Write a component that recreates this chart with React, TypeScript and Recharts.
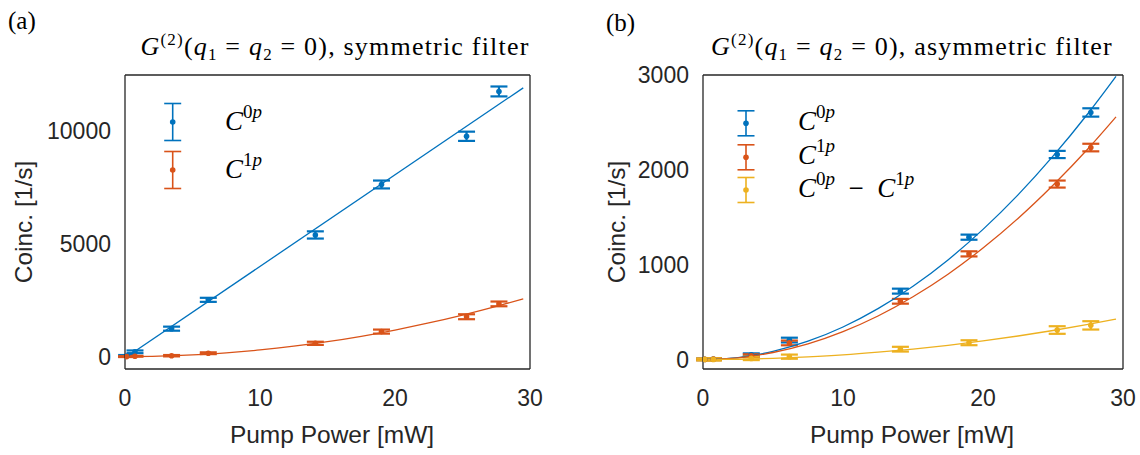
import React from "react";
import { ComposedChart, Scatter, Line, XAxis, YAxis, ErrorBar } from "recharts";

const BLUE = "#0072BD";
const ORANGE = "#D95319";
const YELLOW = "#EDB120";
const AXIS = "#262626";
const SANS = "'Liberation Sans', Arial, Helvetica, sans-serif";
const SERIF = "'Liberation Serif', 'Times New Roman', serif";

// ---------- data ----------
const pumpPower = [0.12, 0.74, 3.45, 6.17, 14.1, 19.0, 25.3, 27.7];

const symC0p = [30, 213, 1240, 2520, 5400, 7640, 9780, 11770];
const symC0pErr = [40, 60, 90, 90, 160, 175, 205, 220];
const symC1p = [0, 15, 40, 150, 590, 1110, 1770, 2340];
const symC1pErr = [20, 20, 30, 40, 70, 90, 110, 105];

const asymC0p = [2, 5, 50, 205, 721, 1290, 2162, 2605];
const asymC0pErr = [8, 10, 15, 25, 26, 27, 38, 44];
const asymC1p = [1, 4, 40, 175, 614, 1114, 1850, 2235];
const asymC1pErr = [8, 10, 15, 25, 25, 27, 37, 40];
const asymDiff = [1, 1, 12, 30, 109, 177, 311, 360];
const asymDiffErr = [10, 12, 18, 22, 25, 26, 40, 44];

const symFitLinX = [0, 29.5];
const symFitC0p = [-60, 11930];
const fitX = [0, 2.5, 5, 7.5, 10, 12.5, 15, 17.5, 20, 22.5, 25, 27.5, 29.5];
const symFitC1p = [0, 18, 74, 166, 295, 461, 664, 903, 1180, 1493, 1844, 2231, 2567];
const asymFitC0p = [0, 21, 86, 193, 343, 536, 772, 1050, 1372, 1736, 2144, 2594, 2985];
const asymFitC1p = [0, 18, 74, 165, 294, 459, 662, 900, 1176, 1488, 1838, 2223, 2559];
const asymFitDiff = [0, 3, 12, 28, 49, 77, 110, 150, 196, 248, 306, 371, 426];

const xTicks = [0, 10, 20, 30];
const symYTicks = [0, 5000, 10000];
const asymYTicks = [0, 1000, 2000, 3000];

const symTitle = "symmetric filter";
const asymTitle = "asymmetric filter";
const xLabel = "Pump Power [mW]";
const yLabel = "Coinc. [1/s]";

// ---------- helpers ----------
type Series = { color: string; values: number[]; errors: number[] };
type Fit = { color: string; xs: number[]; ys: number[] };

const toPoints = (xs: number[], ys: number[], es?: number[]) =>
  xs.map((x, i) => ({ x, y: ys[i], e: es ? es[i] : 0 }));

const dotShape = (color: string) => (props: any) =>
  <circle cx={props.cx} cy={props.cy} r={2.8} fill={color} />;

function Panel(props: {
  left: number;
  width: number;
  margin: { top: number; right: number; bottom: number; left: number };
  yDomain: [number, number];
  yTicks: number[];
  series: Series[];
  fits: Fit[];
}) {
  const { left, width, margin, yDomain, yTicks, series, fits } = props;
  const axisLine = { stroke: AXIS, strokeWidth: 1.3 };
  const tickLine = { stroke: AXIS, strokeWidth: 1.3 };
  const tickStyle = { fill: AXIS, fontSize: 23, fontFamily: SANS };
  return (
    <div style={{ position: "absolute", left, top: 0, width, height: 455 }}>
      <ComposedChart width={width} height={455} margin={margin}>
        <XAxis xAxisId="b" type="number" dataKey="x" domain={[0, 30]} ticks={xTicks} interval={0}
          orientation="bottom" height={1} allowDataOverflow tickLine={false} tickSize={0} tickMargin={21}
          axisLine={axisLine} tick={tickStyle} />
        <XAxis xAxisId="bt" type="number" dataKey="x" domain={[0, 30]} ticks={xTicks} interval={0}
          orientation="bottom" mirror height={1} allowDataOverflow tick={false} axisLine={false}
          tickLine={tickLine} tickSize={5} />
        <XAxis xAxisId="t" type="number" dataKey="x" domain={[0, 30]} ticks={xTicks} interval={0}
          orientation="top" mirror height={1} allowDataOverflow tick={false} axisLine={axisLine}
          tickLine={tickLine} tickSize={5} />
        <YAxis yAxisId="l" type="number" domain={yDomain} ticks={yTicks} interval={0} width={1}
          orientation="left" allowDataOverflow tickLine={false} tickSize={0} tickMargin={14}
          axisLine={axisLine} tick={tickStyle} />
        <YAxis yAxisId="lt" type="number" domain={yDomain} ticks={yTicks} interval={0} width={1}
          orientation="left" mirror allowDataOverflow tick={false} axisLine={false}
          tickLine={tickLine} tickSize={5} />
        <YAxis yAxisId="r" type="number" domain={yDomain} ticks={yTicks} interval={0} width={1}
          orientation="right" mirror allowDataOverflow tick={false} axisLine={axisLine}
          tickLine={tickLine} tickSize={5} />
        {series.map((s, i) => (
          <Scatter key={"s" + i} data={toPoints(pumpPower, s.values, s.errors)} dataKey="y"
            xAxisId="b" yAxisId="l" fill={s.color} shape={dotShape(s.color)} isAnimationActive={false}>
            <ErrorBar dataKey="e" direction="y" width={8.5} strokeWidth={2.2} stroke={s.color}
              isAnimationActive={false} />
          </Scatter>
        ))}
        {fits.map((f, i) => (
          <Line key={"f" + i} data={toPoints(f.xs, f.ys)} dataKey="y" xAxisId="b" yAxisId="l"
            type="monotone" dot={false} activeDot={false} stroke={f.color} strokeWidth={1.3}
            isAnimationActive={false} />
        ))}
      </ComposedChart>
    </div>
  );
}

function ErrIcon({ x, y, h, color }: { x: number; y: number; h: number; color: string }) {
  return (
    <g stroke={color} strokeWidth={1.6}>
      <line x1={x} y1={y - h} x2={x} y2={y + h} />
      <line x1={x - 8.5} y1={y - h} x2={x + 8.5} y2={y - h} />
      <line x1={x - 8.5} y1={y + h} x2={x + 8.5} y2={y + h} />
      <circle cx={x} cy={y} r={2.8} fill={color} stroke="none" />
    </g>
  );
}

function CLabel({ x, y, sup }: { x: number; y: number; sup: string }) {
  return (
    <>
      <tspan x={x} y={y} fontStyle="italic">C</tspan>
      <tspan dy={-12} fontSize={19}>{sup}</tspan>
      <tspan fontSize={19} fontStyle="italic">p</tspan>
      <tspan dy={12}> </tspan>
    </>
  );
}

function Title({ cx, y, tail }: { cx: number; y: number; tail: string }) {
  return (
    <text x={cx} y={y} textAnchor="middle" fontFamily={SERIF} fontSize={26} fill="#000"
      letterSpacing={1.2} style={{ whiteSpace: "pre" }}>
      <tspan fontStyle="italic">G</tspan>
      <tspan dy={-10} fontSize={17}>(2)</tspan>
      <tspan dy={10}>(</tspan>
      <tspan fontStyle="italic">q</tspan>
      <tspan dy={5} fontSize={17}>1</tspan>
      <tspan dy={-5}>{" = "}</tspan>
      <tspan fontStyle="italic">q</tspan>
      <tspan dy={5} fontSize={17}>2</tspan>
      <tspan dy={-5}>{" = 0), " + tail}</tspan>
    </text>
  );
}

export default function App() {
  return (
    <div style={{ position: "absolute", left: 0, top: 0, width: 1140, height: 455, background: "#fff" }}>
      <Panel
        left={0}
        width={570}
        margin={{ top: 75, right: 40, bottom: 85, left: 124 }}
        yDomain={[-550, 12500]}
        yTicks={symYTicks}
        series={[
          { color: BLUE, values: symC0p, errors: symC0pErr },
          { color: ORANGE, values: symC1p, errors: symC1pErr },
        ]}
        fits={[
          { color: BLUE, xs: symFitLinX, ys: symFitC0p },
          { color: ORANGE, xs: fitX, ys: symFitC1p },
        ]}
      />
      <Panel
        left={570}
        width={570}
        margin={{ top: 75, right: 17, bottom: 85, left: 132 }}
        yDomain={[-100, 3000]}
        yTicks={asymYTicks}
        series={[
          { color: BLUE, values: asymC0p, errors: asymC0pErr },
          { color: ORANGE, values: asymC1p, errors: asymC1pErr },
          { color: YELLOW, values: asymDiff, errors: asymDiffErr },
        ]}
        fits={[
          { color: BLUE, xs: fitX, ys: asymFitC0p },
          { color: ORANGE, xs: fitX, ys: asymFitC1p },
          { color: YELLOW, xs: fitX, ys: asymFitDiff },
        ]}
      />
      <svg width={1140} height={455} style={{ position: "absolute", left: 0, top: 0, pointerEvents: "none" }}>
        <text x={8} y={29} fontFamily={SERIF} fontSize={25} fill="#000">(a)</text>
        <text x={606} y={31} fontFamily={SERIF} fontSize={25} fill="#000">(b)</text>
        <Title cx={335} y={55} tail={symTitle} />
        <Title cx={912} y={55} tail={asymTitle} />

        <text transform="translate(23,222) rotate(-90)" textAnchor="middle" dy="0.35em"
          fontFamily={SANS} fontSize={24.5} fill={AXIS}>{yLabel}</text>
        <text transform="translate(616,222) rotate(-90)" textAnchor="middle" dy="0.35em"
          fontFamily={SANS} fontSize={24.5} fill={AXIS}>{yLabel}</text>
        <text x={332} y={443} textAnchor="middle" fontFamily={SANS} fontSize={24.5} fill={AXIS}>{xLabel}</text>
        <text x={912} y={443} textAnchor="middle" fontFamily={SANS} fontSize={24.5} fill={AXIS}>{xLabel}</text>

        {/* legend (a) */}
        <ErrIcon x={172.7} y={122} h={18.5} color={BLUE} />
        <ErrIcon x={172.7} y={170} h={18.5} color={ORANGE} />
        <text fontFamily={SERIF} fontSize={27} fill="#000" style={{ whiteSpace: "pre" }}>
          <CLabel x={225} y={130} sup="0" />
        </text>
        <text fontFamily={SERIF} fontSize={27} fill="#000" style={{ whiteSpace: "pre" }}>
          <CLabel x={225} y={178} sup="1" />
        </text>

        {/* legend (b) */}
        <ErrIcon x={746} y={123.3} h={12.5} color={BLUE} />
        <ErrIcon x={746} y={157.3} h={12.5} color={ORANGE} />
        <ErrIcon x={746} y={190} h={12.5} color={YELLOW} />
        <text fontFamily={SERIF} fontSize={27} fill="#000" style={{ whiteSpace: "pre" }}>
          <CLabel x={798} y={130} sup="0" />
        </text>
        <text fontFamily={SERIF} fontSize={27} fill="#000" style={{ whiteSpace: "pre" }}>
          <CLabel x={798} y={164} sup="1" />
        </text>
        <text fontFamily={SERIF} fontSize={27} fill="#000" style={{ whiteSpace: "pre" }}>
          <CLabel x={798} y={197} sup="0" />
          <tspan>{" −  "}</tspan>
          <tspan fontStyle="italic">C</tspan>
          <tspan dy={-12} fontSize={19}>1</tspan>
          <tspan fontSize={19} fontStyle="italic">p</tspan>
        </text>
      </svg>
    </div>
  );
}
